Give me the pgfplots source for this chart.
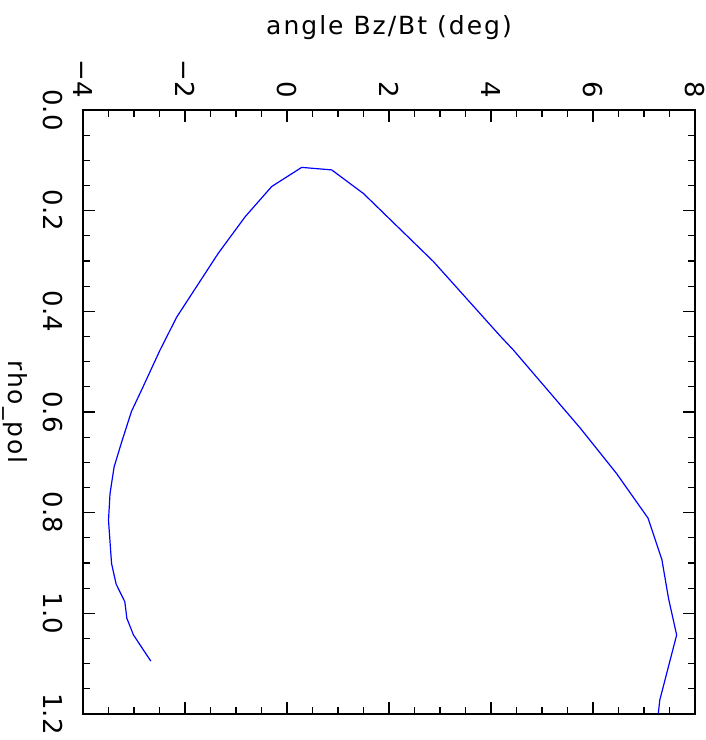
\documentclass[border=0pt]{standalone}
\usepackage{fontspec}
\setmainfont{DejaVu Sans}
\newfontfamily\lblfont{DejaVu Sans}[LetterSpace=8]
\usepackage{pgfplots}
\pgfplotsset{compat=1.18}
\begin{document}
\begin{tikzpicture}
\begin{axis}[
  name=a,
  scale only axis, width=306pt, height=302pt,
  xmin=-4, xmax=8, ymin=0, ymax=1.2, y dir=reverse,
  xtick={-4,-2,0,2,4,6,8}, xticklabels={−4,−2,0,2,4,6,8},
  ytick={0,0.2,0.4,0.6,0.8,1.0,1.2}, yticklabels={0.0,0.2,0.4,0.6,0.8,1.0,1.2},
  minor x tick num=3, minor y tick num=3,
  xticklabel pos=right, yticklabel pos=left,
  xtick pos=both, ytick pos=both,
  tick align=inside,
  major tick length=6pt, minor tick length=3.5pt,
  axis line style={line width=0.6pt, black},
  every tick/.style={line width=0.6pt, black},
  xticklabel style={rotate=-90, anchor=east, inner sep=0pt, outer sep=6pt, font=\fontsize{13}{15}\selectfont},
  yticklabel style={rotate=-90, anchor=north, inner sep=0pt, outer sep=10pt, font=\fontsize{13}{15}\selectfont},
]
\addplot[blue, line width=0.6pt, mark=none] table {
x y
7.28 1.199
7.31 1.172
7.64 1.043
7.48 0.970
7.35 0.893
7.08 0.811
6.46 0.722
5.75 0.632
4.44 0.477
4.18 0.449
2.87 0.301
1.50 0.166
0.876 0.119
0.288 0.114
-0.30 0.152
-0.82 0.212
-1.35 0.285
-2.16 0.411
-2.49 0.477
-2.85 0.556
-3.05 0.599
-3.24 0.659
-3.39 0.709
-3.47 0.762
-3.50 0.815
-3.44 0.901
-3.35 0.942
-3.18 0.977
-3.14 1.010
-3.01 1.043
-2.67 1.095
};
\end{axis}
\node[anchor=base, font=\lblfont\fontsize{12.5}{15}\selectfont, inner sep=0pt] at ([yshift=37.9pt]a.north) {angle Bz/Bt (deg)};
\node[rotate=-90, font=\lblfont\fontsize{12.5}{15}\selectfont, inner sep=0pt] at ([xshift=-34pt]a.west) {rho\_pol};
\pgfresetboundingbox
\path[use as bounding box] (-41.5pt,-13pt) rectangle (311.5pt,357pt);
\end{tikzpicture}
\end{document}
